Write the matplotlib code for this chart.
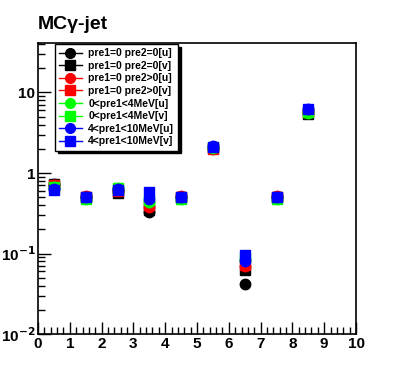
import numpy as np
import matplotlib.pyplot as plt
from matplotlib.ticker import FixedLocator, MultipleLocator, NullFormatter

plt.rcParams['font.family'] = ['Liberation Sans', 'DejaVu Sans']
plt.rcParams['font.weight'] = 'bold'

# bin centres
x = [0.5, 1.5, 2.5, 3.5, 4.5, 5.5, 6.5, 7.5, 8.5]

labels = ["pre1=0 pre2=0[u]", "pre1=0 pre2=0[v]",
          "pre1=0 pre2>0[u]", "pre1=0 pre2>0[v]",
          "0<pre1<4MeV[u]", "0<pre1<4MeV[v]",
          "4<pre1<10MeV[u]", "4<pre1<10MeV[v]"]

black_u = [0.74, 0.50, 0.60, 0.33, 0.50, 2.05, 0.042, 0.50, 5.6]
black_v = [0.73, 0.50, 0.57, 0.35, 0.50, 2.05, 0.063, 0.50, 5.4]
red_u   = [0.71, 0.52, 0.62, 0.38, 0.52, 2.00, 0.070, 0.52, 5.8]
red_v   = [0.70, 0.50, 0.60, 0.40, 0.50, 1.98, 0.072, 0.50, 5.7]
green_u = [0.68, 0.48, 0.66, 0.44, 0.48, 2.05, 0.085, 0.48, 5.6]
green_v = [0.67, 0.48, 0.65, 0.46, 0.48, 2.10, 0.088, 0.48, 5.8]
blue_u  = [0.64, 0.50, 0.64, 0.47, 0.50, 2.15, 0.080, 0.50, 6.2]
blue_v  = [0.62, 0.50, 0.62, 0.58, 0.50, 2.10, 0.095, 0.50, 6.3]

series = [black_u, black_v, red_u, red_v, green_u, green_v, blue_u, blue_v]
colors = ['black', 'black', 'red', 'red', '#00ff00', '#00ff00', 'blue', 'blue']
markers = ['o', 's', 'o', 's', 'o', 's', 'o', 's']

fig = plt.figure(figsize=(3.96, 3.72), dpi=100)
ax = fig.add_axes([0.096, 0.102, 0.803, 0.782])

handles = []
for ys, c, m, lab in zip(series, colors, markers, labels):
    ax.plot(x, ys, linestyle='none', marker=m, color=c, markersize=7.5)
    h, = ax.plot([], [], linestyle='-', marker=m, color=c, markersize=7, lw=1, label=lab)
    handles.append(h)

ax.set_yscale('log')
ax.set_xlim(0, 10)
ax.set_ylim(0.01, 41)

ax.xaxis.set_major_locator(MultipleLocator(1))
ax.xaxis.set_minor_locator(MultipleLocator(0.2))
ax.yaxis.set_major_locator(FixedLocator([0.01, 0.1, 1, 10]))
ax.set_yticklabels(['10$^{-2}$', '10$^{-1}$', '1', '10'])
ax.yaxis.set_minor_locator(FixedLocator(
    [k * 10.0**e for e in range(-2, 2) for k in range(2, 10)]))
ax.yaxis.set_minor_formatter(NullFormatter())

ax.tick_params(which='both', direction='in', top=False, right=False, width=1)
ax.tick_params(which='major', length=9, labelsize=11, pad=2)
ax.tick_params(which='minor', length=5)
for lbl in ax.get_xticklabels() + ax.get_yticklabels():
    lbl.set_fontweight('bold')
for s in ax.spines.values():
    s.set_linewidth(1.2)

fig.text(0.096, 0.935, "MC\u03b3-jet", fontsize=14, fontweight='bold',
         ha='left', va='center')

leg = ax.legend(handles=handles, loc='upper left', bbox_to_anchor=(0.053, 0.997),
                frameon=True, fancybox=False, shadow={'color': 'black', 'alpha': 1},
                fontsize=7.5, handlelength=2.2, handletextpad=0.6,
                labelspacing=0.25, borderpad=0.4, borderaxespad=0)
leg.get_frame().set_edgecolor('black')
leg.get_frame().set_linewidth(1)
for t in leg.get_texts():
    t.set_fontweight('bold')

fig.savefig('out.png', dpi=100)
